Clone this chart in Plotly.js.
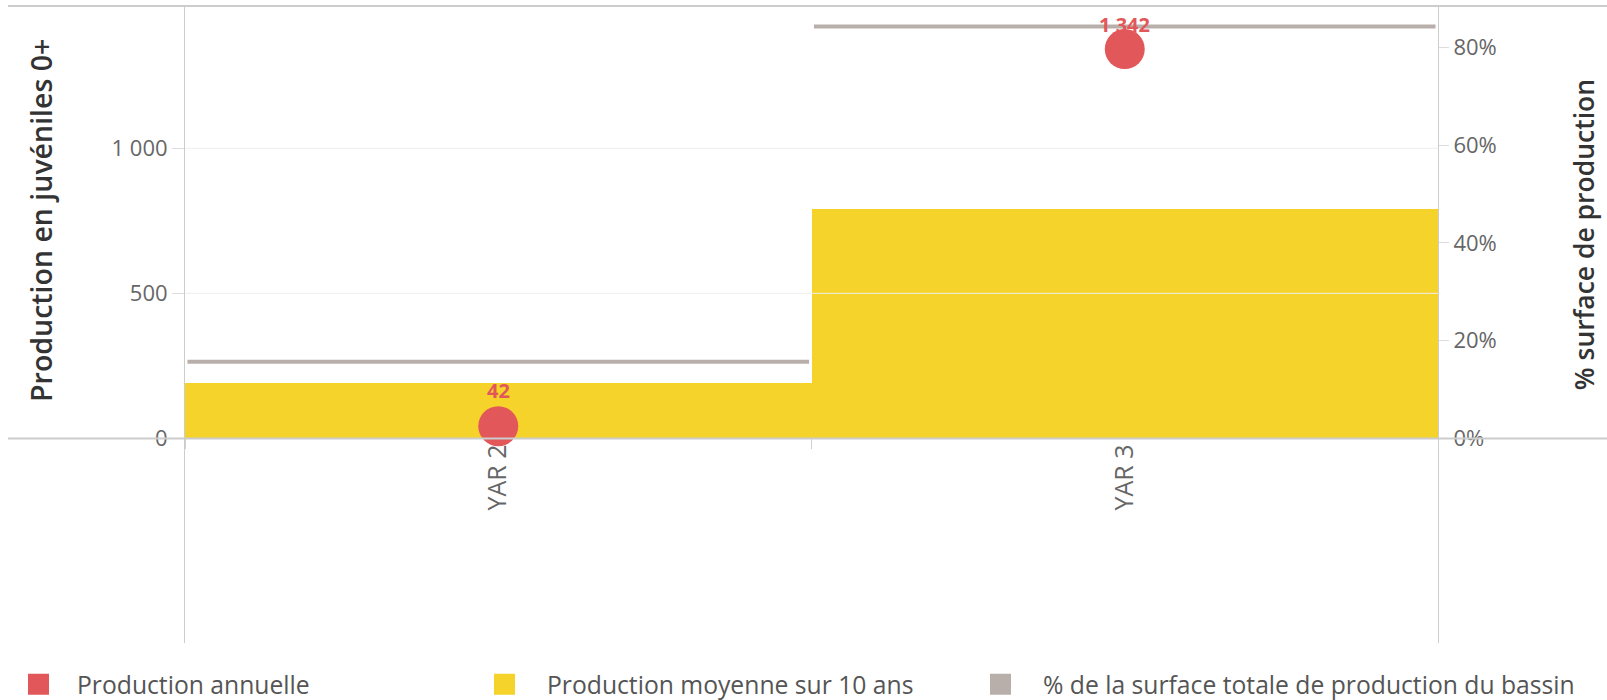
<!DOCTYPE html>
<html>
<head>
<meta charset="utf-8">
<script src="https://cdn.plot.ly/plotly-3.0.1.min.js"></script>
<style>
  html, body { margin: 0; padding: 0; background: #fff; }
  #chart { width: 1607px; height: 700px; }
</style>
</head>
<body>
<div id="chart"></div>
<script>
// ---- data ----
const categories = ['YAR 2', 'YAR 3'];
const productionAnnuelle = [42, 1342];
const productionMoyenne = [190, 790];
const surfacePct = [15.7, 84.3];
const leftTicks = [0, 500, 1000];
const rightTicks = [0, 20, 40, 60, 80];
const rightTickText = rightTicks.map(v => v + '%');
const seriesNames = ['Production annuelle', 'Production moyenne sur 10 ans', '% de la surface totale de production du bassin'];
const seriesColors = ['#e2575a', '#f6d32a', '#b9afaa'];
const leftTitle = 'Production en juvéniles 0+';
const rightTitle = '% surface de production';

const FONT = 'Open Sans, DejaVu Sans, sans-serif';

// axis geometry (style)
const MARGIN = { l: 185, r: 169, t: 6, b: 57 };
const LEFT_RANGE = [-705.3, 1490.5];
const RIGHT_RANGE = [-41.9, 88.5];
const plotH = 700 - MARGIN.t - MARGIN.b;
const pxPerUnit = plotH / (LEFT_RANGE[1] - LEFT_RANGE[0]);

const fmt = v => String(v).replace(/\B(?=(\d{3})+(?!\d))/g, ' ');

const traces = [
  {
    type: 'scatter', mode: 'markers',
    x: categories, y: surfacePct, yaxis: 'y',
    name: seriesNames[2], showlegend: false,
    marker: { symbol: 'line-ew', size: 444, color: seriesColors[2], line: { color: seriesColors[2], width: 4 } },
    hoverinfo: 'skip'
  },
  {
    type: 'bar',
    x: categories, y: productionMoyenne, yaxis: 'y2',
    name: seriesNames[1], showlegend: false,
    marker: { color: seriesColors[1], line: { width: 0 } }
  },
  {
    type: 'scatter', mode: 'markers',
    x: categories, y: productionAnnuelle, yaxis: 'y2',
    name: seriesNames[0], showlegend: false,
    marker: { symbol: 'circle', size: 40, color: seriesColors[0] }
  }
];
// legend-only entries (square swatches), one legend box each
const legendIds = ['legend', 'legend2', 'legend3'];
seriesNames.forEach((n, i) => {
  traces.push({
    type: 'scatter', mode: 'markers', x: [null], y: [null], yaxis: 'y',
    name: n, showlegend: true, legend: legendIds[i],
    marker: { symbol: 'square', size: 16, color: seriesColors[i], line: { color: seriesColors[i], width: 5 } }
  });
});

// data labels for annual production, kept inside the plot area (like the source)
const labelAnn = categories.map((c, i) => {
  const distTop = (LEFT_RANGE[1] - productionAnnuelle[i]) * pxPerUnit;
  return {
    x: c, y: productionAnnuelle[i], xref: 'x', yref: 'y2',
    text: fmt(productionAnnuelle[i]), showarrow: false,
    xanchor: 'center', yanchor: 'middle',
    yshift: Math.min(36, distTop - 18),
    font: { family: FONT, size: 20, weight: 'bold', color: seriesColors[0] }
  };
});

const gridShapes = leftTicks.filter(v => v !== 0).map(v => ({
  type: 'line', xref: 'paper', yref: 'y2', x0: 0, x1: 1, y0: v, y1: v,
  line: { color: '#eeeeee', width: 1 }, layer: 'above'
}));

const legendBase = {
  orientation: 'h', xref: 'container', yref: 'container',
  xanchor: 'left', y: 0.022, yanchor: 'middle',
  font: { family: FONT, size: 24.7, color: '#555' },
  bgcolor: 'rgba(0,0,0,0)', borderwidth: 0
};

const layout = {
  width: 1607, height: 700,
  margin: MARGIN,
  paper_bgcolor: '#fff', plot_bgcolor: '#fff',
  separators: ', ',
  font: { family: FONT, color: '#666' },
  bargap: 0,
  showlegend: true,
  xaxis: {
    type: 'category', range: [-0.5, 1.5],
    anchor: 'free', position: 0.3212,
    showline: false, showgrid: false, zeroline: false,
    ticks: 'outside', tickson: 'boundaries', ticklen: 10, tickcolor: '#d0d0d0', tickwidth: 1,
    tickangle: -90, tickfont: { family: FONT, size: 25, color: '#666' }
  },
  yaxis: {
    side: 'right', range: RIGHT_RANGE,
    tickvals: rightTicks, ticktext: rightTickText,
    showgrid: false, zeroline: false,
    showline: true, linecolor: '#cccccc', linewidth: 1,
    ticks: 'outside', ticklen: 10, tickcolor: '#dddddd',
    tickfont: { family: FONT, size: 22, color: '#666' }
  },
  yaxis2: {
    side: 'left', overlaying: 'y', range: LEFT_RANGE,
    tickvals: leftTicks, tickformat: ',d',
    showgrid: false, zeroline: false,
    showline: true, linecolor: '#cccccc', linewidth: 1,
    ticks: 'outside', ticklen: 12, tickcolor: '#dddddd',
    tickfont: { family: FONT, size: 22, color: '#666' }
  },
  shapes: [
    { type: 'line', xref: 'paper', yref: 'paper', x0: -0.1413, x1: 1.1353, y0: 1, y1: 1,
      line: { color: '#cccccc', width: 2 } },
    { type: 'line', xref: 'paper', yref: 'y2', x0: -0.1413, x1: 1.1353, y0: 0, y1: 0,
      line: { color: '#cccccc', width: 2 }, layer: 'above' }
  ].concat(gridShapes),
  annotations: [
    { text: leftTitle, xref: 'paper', yref: 'paper', x: -0.115, y: 0.664,
      xanchor: 'center', yanchor: 'middle', textangle: -90, showarrow: false,
      font: { family: FONT, size: 28.5, weight: 600, color: '#333' } },
    { text: rightTitle, xref: 'paper', yref: 'paper', x: 1.1162, y: 0.641,
      xanchor: 'center', yanchor: 'middle', textangle: -90, showarrow: false,
      font: { family: FONT, size: 26.5, weight: 600, color: '#333' } }
  ].concat(labelAnn),
  legend: Object.assign({}, legendBase, { x: 0, itemwidth: 67 }),
  legend2: Object.assign({}, legendBase, { x: 462 / 1607, itemwidth: 75 }),
  legend3: Object.assign({}, legendBase, { x: 958 / 1607, itemwidth: 75 })
};

Plotly.newPlot('chart', traces, layout, { displayModeBar: false, responsive: false });
</script>
</body>
</html>
